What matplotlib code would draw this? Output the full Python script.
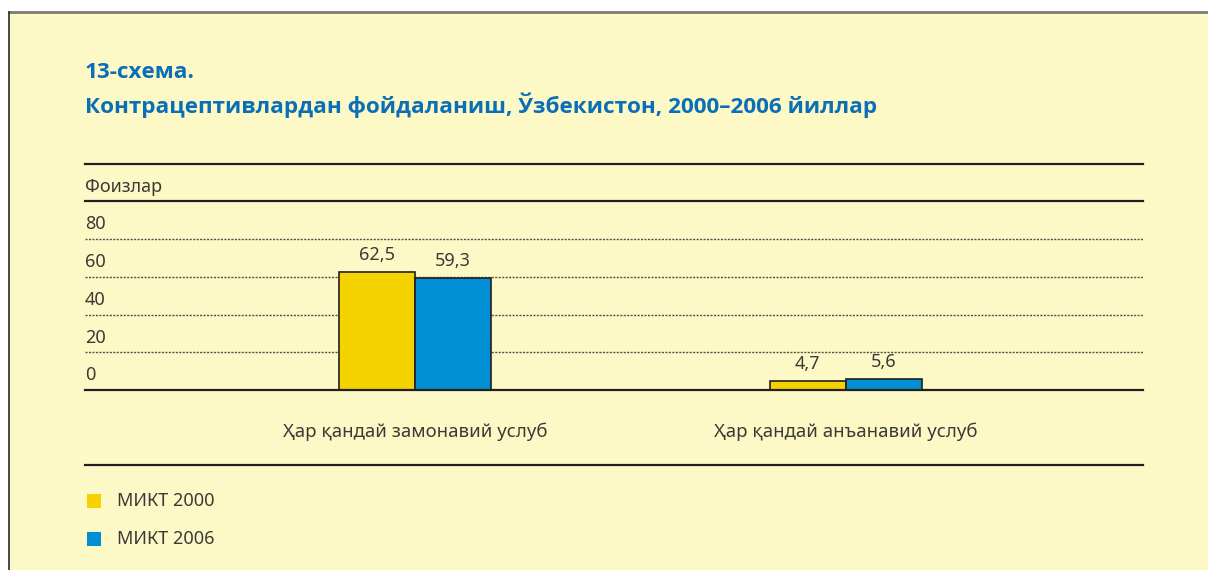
import matplotlib.pyplot as plt
from matplotlib.lines import Line2D
from matplotlib.patches import Rectangle
import numpy as np

# ==========================================
# Data
# ==========================================

categories = ["Ҳар қандай замонавий услуб", "Ҳар қандай анъанавий услуб"]
series_names = ["МИКТ 2000", "МИКТ 2006"]
values_2000 = [62.5, 4.7]
values_2006 = [59.3, 5.6]
y_ticks = [0, 20, 40, 60, 80]

title_1 = "13-схема."
title_2 = "Контрацептивлардан фойдаланиш, Ўзбекистон, 2000–2006 йиллар"
y_unit = "Фоизлар"

# ==========================================
# Style
# ==========================================

plt.rcParams['font.family'] = ['Noto Sans', 'DejaVu Sans']

bg = '#FDF9C7'
yellow = '#F5D300'
blue = '#008FD5'
text_c = '#3A3A36'
line_c = '#231F20'
title_c = '#0A6FB7'
fs = 13

W, H = 1208, 570

fig = plt.figure(figsize=(12.08, 5.70), dpi=100)
fig.patch.set_facecolor('white')

# page background + border
fig.patches.append(Rectangle((9 / W, 0), 1 - 9 / W, 1 - 12 / H,
                             transform=fig.transFigure,
                             facecolor=bg, edgecolor='none', zorder=-5))
fig.lines.append(Line2D([9 / W, 1], [1 - 12 / H, 1 - 12 / H],
                        transform=fig.transFigure, color='#7E7C70', lw=2))
fig.lines.append(Line2D([9 / W, 9 / W], [0, 1 - 12 / H],
                        transform=fig.transFigure, color='#2A2A26', lw=1.2))

# ==========================================
# Axes
# ==========================================

x0, x1 = 85, 1143
y_top, y_base = 163.5, 390
ax = fig.add_axes([x0 / W, 1 - y_base / H, (x1 - x0) / W, (y_base - y_top) / H])
ax.set_facecolor('none')
ax.set_xlim(-0.766, 1.69)
ax.set_ylim(0, 120)
ax.axis('off')

# grid
for v in [20, 40, 60, 80]:
    ax.axhline(v, color='#505048', lw=1.0, linestyle=(0, (1.5, 1.0)), zorder=1)
for v in [0, 100, 120]:
    ax.axhline(v, color=line_c, lw=1.6, zorder=3, clip_on=False)

# tick labels (above their lines)
for v in y_ticks:
    ax.annotate(str(v), xy=(0, v), xycoords=('axes fraction', 'data'),
                xytext=(0, 4), textcoords='offset points',
                ha='left', va='bottom', fontsize=fs, color=text_c)
ax.annotate(y_unit, xy=(0, 100), xycoords=('axes fraction', 'data'),
            xytext=(0, 4), textcoords='offset points',
            ha='left', va='bottom', fontsize=fs, color=text_c)

# bars
x = np.arange(len(categories))
bw = 0.1765
b1 = ax.bar(x - bw / 2, values_2000, bw, color=yellow, edgecolor=line_c,
            lw=1.2, zorder=2)
b2 = ax.bar(x + bw / 2, values_2006, bw, color=blue, edgecolor=line_c,
            lw=1.2, zorder=2)

for bars, vals in [(b1, values_2000), (b2, values_2006)]:
    for rect, v in zip(bars, vals):
        ax.annotate(f"{v:.1f}".replace('.', ','),
                    xy=(rect.get_x() + rect.get_width() / 2, v),
                    xytext=(0, 6), textcoords='offset points',
                    ha='center', va='bottom', fontsize=fs, color=text_c)

# category labels
for xi, cat in zip(x, categories):
    ax.annotate(cat, xy=(xi, 0), xycoords='data',
                xytext=(0, -30), textcoords='offset points',
                ha='center', va='center', fontsize=13.4, color=text_c)

# bottom rule
fig.lines.append(Line2D([x0 / W, x1 / W], [1 - 464.5 / H, 1 - 464.5 / H],
                        transform=fig.transFigure, color=line_c, lw=1.6))

# ==========================================
# Title
# ==========================================

for txt, yc in [(title_1, 73), (title_2, 105)]:
    fig.text(x0 / W, 1 - yc / H, txt, fontsize=16.2, fontweight='bold',
             family=['Open Sans', 'DejaVu Sans'],
             color=title_c, ha='left', va='center')

# ==========================================
# Legend
# ==========================================

for i, (name, col) in enumerate(zip(series_names, [yellow, blue])):
    yc = 501 + i * 38
    fig.patches.append(Rectangle((87 / W, 1 - (yc + 7) / H), 14 / W, 14 / H,
                                 transform=fig.transFigure,
                                 facecolor=col, edgecolor='none'))
    fig.text(117 / W, 1 - yc / H, name, fontsize=fs, color=text_c,
             ha='left', va='center')

fig.savefig('out.png', dpi=100, facecolor=fig.get_facecolor())
